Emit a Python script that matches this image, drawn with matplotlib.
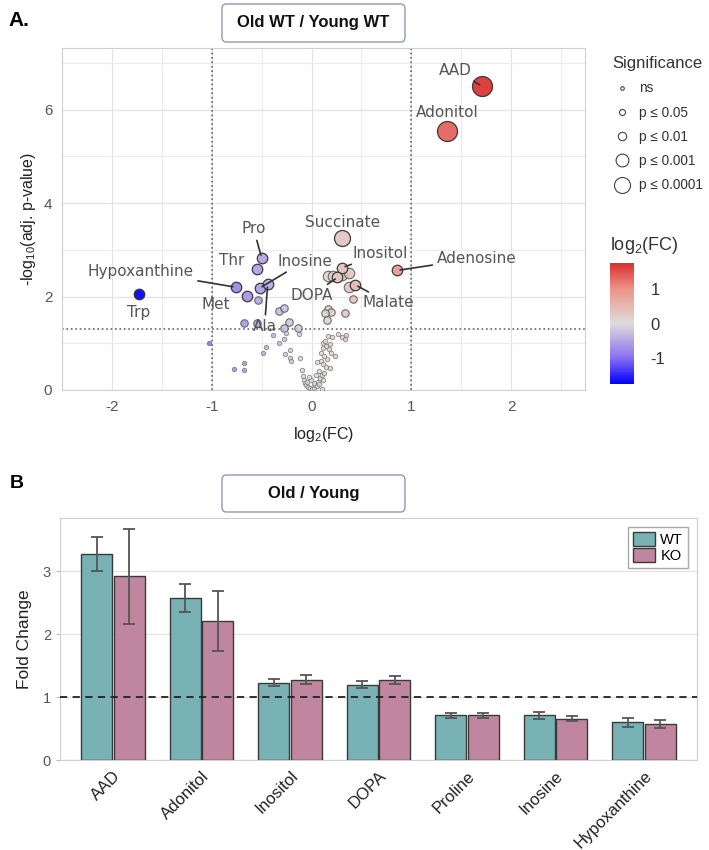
import numpy as np
import matplotlib
matplotlib.use("Agg")
from matplotlib import pyplot as plt
from matplotlib.colors import LinearSegmentedColormap, Normalize
from matplotlib.cm import ScalarMappable
from matplotlib.lines import Line2D
from matplotlib.patches import FancyBboxPatch

## DATA
# Volcano plot, labelled metabolites (log2 FC, -log10 adj. p)
LABELS = ["AAD", "Adonitol", "Succinate", "Inositol", "Adenosine", "DOPA", "Malate",
          "Pro", "Thr", "Inosine", "Ala", "Hypoxanthine", "Met", "Trp"]
LABEL_FC = [1.71, 1.36, 0.31, 0.31, 0.86, 0.26, 0.44,
            -0.50, -0.55, -0.52, -0.44, -0.76, -0.65, -1.73]
LABEL_P = [6.50, 5.55, 3.25, 2.62, 2.56, 2.41, 2.25,
           2.83, 2.58, 2.18, 2.26, 2.20, 2.02, 2.05]

# Volcano plot, remaining metabolites
OTHER_FC = [-0.54, -0.68, -0.55, -0.33, -0.28, -0.23, -0.28, -0.14,
            0.17, 0.22, 0.31, 0.38, 0.38, 0.42, 0.17, 0.20, 0.14, 0.16, 0.34,
            -1.03, -0.78, -0.68, -0.68, -0.49, -0.46, -0.39, -0.33, -0.28, -0.26,
            -0.13, -0.22, -0.27, -0.22, -0.21, -0.12, -0.10, -0.09, -0.08, -0.07,
            -0.06, -0.04, -0.02, 0.00, 0.02, 0.03, 0.05, -0.05, 0.02, -0.01,
            0.06, 0.08, 0.10, 0.12, 0.13, 0.07, 0.09, 0.11, 0.15, 0.19, 0.24,
            0.09, 0.12, 0.18, 0.19, 0.12, 0.17, 0.21, 0.31, 0.35, 0.34, 0.14,
            0.16, 0.13, 0.05, 0.04, -0.03, 0.15, 0.20, 0.27, 0.07, 0.10]
OTHER_P = [1.93, 1.43, 1.44, 1.70, 1.75, 1.46, 1.32, 1.32,
           2.43, 2.44, 2.46, 2.50, 2.20, 1.94, 1.73, 1.66, 1.64, 1.50, 1.64,
           1.01, 0.46, 0.57, 0.43, 0.80, 0.91, 1.17, 1.00, 1.09, 1.23,
           1.19, 0.86, 0.78, 0.68, 0.62, 0.68, 0.43, 0.29, 0.22, 0.15,
           0.10, 0.06, 0.04, 0.02, 0.05, 0.10, 0.08, 0.18, 0.14, 0.21,
           0.18, 0.25, 0.32, 0.21, 0.37, 0.40, 0.61, 0.55, 0.50, 0.48, 0.73,
           0.79, 0.89, 0.87, 0.98, 1.01, 1.16, 1.14, 1.14, 1.18, 1.09, 1.05,
           0.66, 0.72, 0.60, 0.33, 0.28, 0.95, 0.80, 1.20, 0.12, 0.03]

# Bar chart, fold change old / young
BAR_METABS = ["AAD", "Adonitol", "Inositol", "DOPA", "Proline", "Inosine", "Hypoxanthine"]
WT_FC = [3.27, 2.58, 1.23, 1.20, 0.71, 0.71, 0.60]
WT_ERR = [0.27, 0.22, 0.06, 0.05, 0.04, 0.05, 0.07]
KO_FC = [2.92, 2.21, 1.28, 1.27, 0.71, 0.66, 0.57]
KO_ERR = [0.75, 0.48, 0.075, 0.06, 0.04, 0.045, 0.065]

SIG_NAMES = ["ns", "p ≤ 0.05", "p ≤ 0.01", "p ≤ 0.001", "p ≤ 0.0001"]

## STYLE
SIG_CUTS = [-np.log10(0.05), 2, 3, 4]
SIG_DIAM = [4.5, 7.5, 10.5, 16, 20]  # marker diameter in pixels

# label offsets in pixels, and whether a connector line is drawn
OFFSETS = {"AAD": (-27, 16, True), "Adonitol": (0, 18, False),
           "Succinate": (0, 16, False), "Inositol": (38, 14, True),
           "Adenosine": (79, 12, True), "DOPA": (-26, -18, True),
           "Malate": (33, -18, True), "Pro": (-8, 29, True),
           "Thr": (-25, 9, False), "Inosine": (45, 27, True),
           "Ala": (-3, -42, True), "Hypoxanthine": (-95, 16, True),
           "Met": (-31, -9, False), "Trp": (0, -18, False)}

NARROW = ["Liberation Sans Narrow", "Liberation Sans", "DejaVu Sans"]
SANS = ["Liberation Sans", "DejaVu Sans"]

plt.rcParams['font.family'] = SANS
plt.rcParams['mathtext.default'] = 'regular'
plt.rcParams['axes.unicode_minus'] = False

FC_MAX = 1.77
cmap = LinearSegmentedColormap.from_list(
    "fc", [(0.0, "#0000ff"), (0.5 - 0.5 / FC_MAX, "#8a70ef"), (0.5, "#dedcdc"),
           (0.5 + 0.5 / FC_MAX, "#ec9589"), (1.0, "#da3030")])
norm = Normalize(-FC_MAX, FC_MAX)


def sig_class(p):
    return int(np.searchsorted(SIG_CUTS, p))


def diam_to_s(d):
    return (d * 0.72) ** 2


fig = plt.figure(figsize=(7.09, 8.5), dpi=100)


def title_box(text, y0, y1):
    x0, x1 = 222 / 709, 405 / 709
    box = FancyBboxPatch((x0, 1 - y1 / 850), x1 - x0, (y1 - y0) / 850,
                         boxstyle="round,pad=0,rounding_size=0.006",
                         transform=fig.transFigure, fc="white", ec="#8c9ab6", lw=1.0)
    fig.patches.append(box)
    fig.text((x0 + x1) / 2, 1 - (y0 + y1) / 2 / 850, text, ha="center", va="center",
             fontsize=12, fontweight="bold", family=NARROW, color="#111111")


## PANEL A: volcano
ax = fig.add_axes([62 / 709, 1 - 390 / 850, 523 / 709, 342 / 850])

other_cls = [sig_class(p) for p in OTHER_P]
for fc, p, c in zip(OTHER_FC, OTHER_P, other_cls):
    ns = c == 0
    ax.scatter(fc, p, s=diam_to_s(SIG_DIAM[c]), color=cmap(norm(fc)),
               edgecolors="#7a7a7a" if ns else "#555555",
               linewidths=0.6 if ns else 0.8, alpha=0.85, zorder=3)

for name, fc, p in zip(LABELS, LABEL_FC, LABEL_P):
    c = sig_class(p)
    ax.scatter(fc, p, s=diam_to_s(SIG_DIAM[c]), color=cmap(norm(fc)),
               edgecolors="#333333", linewidths=0.9, alpha=0.95, zorder=4)
    dx, dy, line = OFFSETS[name]
    props = dict(arrowstyle="-", color="#333333", lw=1.2, shrinkA=1, shrinkB=2) if line else None
    ax.annotate(name, xy=(fc, p), xytext=(dx, dy), textcoords="offset pixels",
                ha="center", va="center", fontsize=11, color="#555555",
                family="DejaVu Sans", arrowprops=props, zorder=5)

ax.axvline(-1, color="#666666", ls=":", lw=1.2, zorder=2)
ax.axvline(1, color="#666666", ls=":", lw=1.2, zorder=2)
ax.axhline(-np.log10(0.05), color="#666666", ls=":", lw=1.2, zorder=2)

ax.set_xlim(-2.5, 2.74)
ax.set_ylim(0, 7.32)
ax.set_xticks([-2, -1, 0, 1, 2])
ax.set_xticks(np.arange(-2.5, 2.8, 1.0), minor=True)
ax.set_yticks([0, 2, 4, 6])
ax.set_yticks([1, 3, 5, 7], minor=True)
ax.grid(True, which="major", color="#e3e3e3", lw=0.9, zorder=0)
ax.grid(True, which="minor", color="#ececec", lw=0.8, zorder=0)
ax.set_axisbelow(True)
ax.tick_params(which="both", length=0, labelsize=11, labelcolor="#555555", pad=7)
for s in ax.spines.values():
    s.set_color("#d0d0d0")
ax.set_xlabel("log$_2$(FC)", fontsize=11.5, color="#222222", labelpad=8)
ax.set_ylabel("-log$_{10}$(adj. p-value)", fontsize=11.5, color="#222222", labelpad=4)

# significance legend
handles = [Line2D([], [], ls="", marker="o", markersize=d * 0.72 * 0.8,
                  markerfacecolor="white", markeredgecolor="#444444", markeredgewidth=0.8)
           for d in SIG_DIAM]
leg = fig.legend(handles, SIG_NAMES, loc="upper left", bbox_to_anchor=(600 / 709, 1 - 44 / 850),
                 frameon=False, title="Significance", title_fontsize=12, fontsize=9.8,
                 handlelength=1.5, handletextpad=0.5, labelspacing=0.75, alignment="left")
for t in leg.get_texts():
    t.set_color("#333333")
leg.get_title().set_color("#333333")

# colorbar
cax = fig.add_axes([610 / 709, 1 - 384 / 850, 24 / 709, 121 / 850])
cb = fig.colorbar(ScalarMappable(norm=norm, cmap=cmap), cax=cax, ticks=[-1, 0, 1])
cb.outline.set_visible(False)
cax.tick_params(length=0, labelsize=12, labelcolor="#333333", pad=12)
fig.text(610 / 709, 1 - 246 / 850, "log$_2$(FC)", fontsize=13, color="#333333", va="center")

title_box("Old WT / Young WT", 4, 42)
fig.text(8 / 709, 1 - 20 / 850, "A.", fontsize=15, fontweight="bold", va="center")

## PANEL B: bars
bx = fig.add_axes([60 / 709, 1 - 760 / 850, 637 / 709, 242 / 850])
x = np.arange(len(BAR_METABS))
w = 0.35
err_kw = dict(ecolor="#555555", elinewidth=1.3, capsize=4, capthick=1.3)
bx.bar(x - 0.185, WT_FC, w, yerr=WT_ERR, color="#78b2b4", edgecolor="#3a3a3a",
       linewidth=1.0, label="WT", error_kw=err_kw, zorder=3)
bx.bar(x + 0.185, KO_FC, w, yerr=KO_ERR, color="#c0869f", edgecolor="#3a3a3a",
       linewidth=1.0, label="KO", error_kw=err_kw, zorder=3)
bx.axhline(1, color="#222222", ls=(0, (4, 3)), lw=1.3, zorder=4)

bx.set_xlim(-0.6, len(BAR_METABS) - 0.4)
bx.set_ylim(0, 3.85)
bx.set_yticks([0, 1, 2, 3])
bx.yaxis.grid(True, color="#e3e3e3", lw=0.9, zorder=0)
bx.set_axisbelow(True)
bx.set_xticks(x)
bx.set_xticklabels(BAR_METABS, rotation=45, ha="right", rotation_mode="anchor",
                   fontsize=12, family=NARROW, color="#222222")
for t in bx.get_yticklabels():
    t.set_family(NARROW)
bx.tick_params(axis="y", length=3, color="#bbbbbb", labelsize=10.5, labelcolor="#555555")
bx.tick_params(axis="x", length=0, pad=6)
for s in bx.spines.values():
    s.set_color("#cfcfcf")
bx.set_ylabel("Fold Change", fontsize=12.5, color="#222222", labelpad=8)

bleg = bx.legend(loc="upper right", fancybox=False, edgecolor="#aaaaaa", framealpha=1,
                 prop={"family": NARROW, "size": 10.5}, handlelength=1.5, handleheight=1.1,
                 labelspacing=0.05, borderpad=0.35, handletextpad=0.4, borderaxespad=0.6)
for p in bleg.get_patches():
    p.set_edgecolor("#3a3a3a")

title_box("Old / Young", 475, 512)
fig.text(10 / 709, 1 - 483 / 850, "B", fontsize=14, fontweight="bold", va="center")

fig.savefig("out.png", dpi=100)
